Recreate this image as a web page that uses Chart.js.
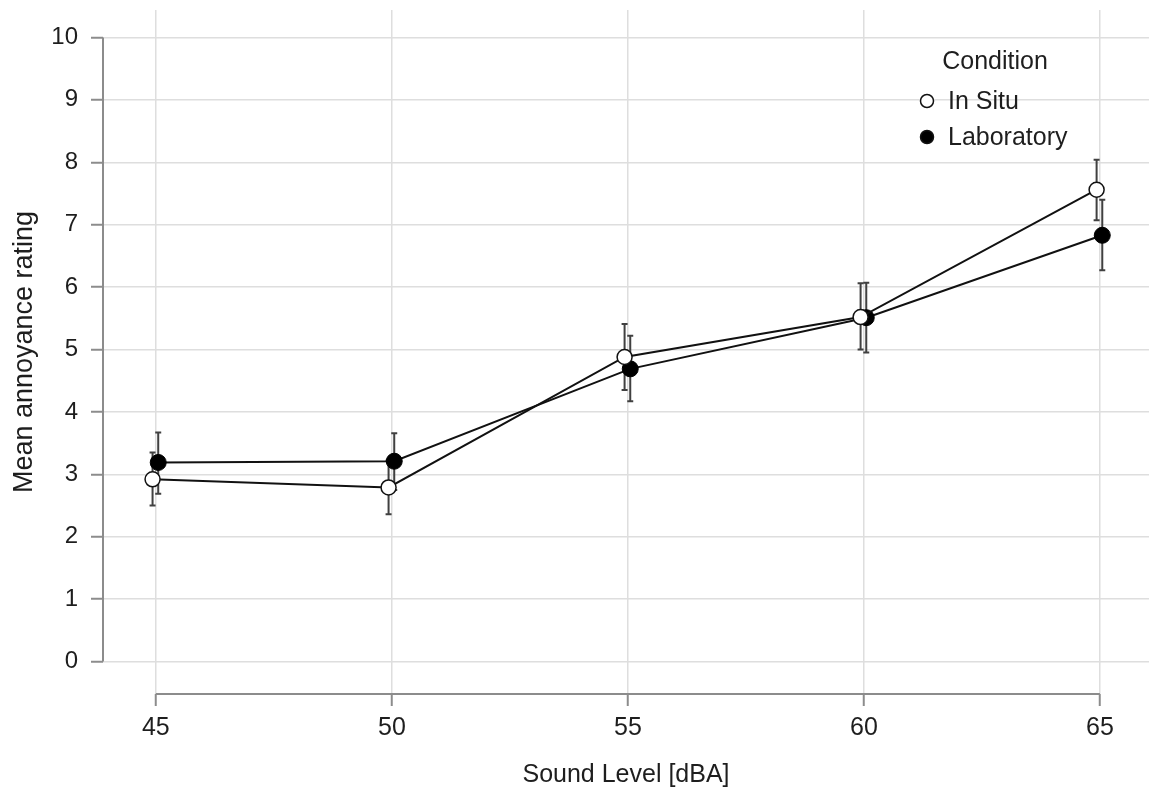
<!DOCTYPE html>
<html>
<head>
<meta charset="utf-8">
<script src="https://cdn.jsdelivr.net/npm/chart.js@4"></script>
<style>
html,body{margin:0;padding:0;background:#fff;}
canvas{display:block;}
</style>
</head>
<body>
<canvas id="c" width="1149" height="790"></canvas>
<script>
// ---- data ----
const levels = [45, 50, 55, 60, 65];
const inSitu = [2.92, 2.79, 4.88, 5.52, 7.56];
const inSituLow = [2.50, 2.36, 4.35, 5.00, 7.07];
const inSituHigh = [3.35, 3.22, 5.41, 6.06, 8.04];
const lab = [3.19, 3.21, 4.69, 5.51, 6.83];
const labLow = [2.69, 2.75, 4.17, 4.95, 6.27];
const labHigh = [3.67, 3.66, 5.22, 6.07, 7.40];
const xTicks = [45, 50, 55, 60, 65];
const yTicks = [0, 1, 2, 3, 4, 5, 6, 7, 8, 9, 10];
const seriesNames = ['In Situ', 'Laboratory'];
const legendTitle = 'Condition';
const xTitle = 'Sound Level [dBA]';
const yTitle = 'Mean annoyance rating';

// ---- styling / layout ----
const dodge = [-0.07, 0.05];
const FONT = '"Liberation Sans", Arial, Helvetica, sans-serif';
const TEXT = '#1e1e1e';
const GRID = '#dedede';
const AXIS = '#8c8c8c';

const series = [
  {mean: inSitu, low: inSituLow, high: inSituHigh, fill: '#ffffff'},
  {mean: lab, low: labLow, high: labHigh, fill: '#000000'}
];

const errorBars = {
  id: 'errorBars',
  beforeDatasetsDraw(chart) {
    const ctx = chart.ctx, xs = chart.scales.x, ys = chart.scales.y;
    ctx.save();
    ctx.strokeStyle = '#404040';
    ctx.lineWidth = 2;
    series.forEach((s, si) => {
      levels.forEach((lv, i) => {
        const px = xs.getPixelForValue(lv + dodge[si]);
        const y1 = ys.getPixelForValue(s.low[i]);
        const y2 = ys.getPixelForValue(s.high[i]);
        ctx.beginPath();
        ctx.moveTo(px, y1); ctx.lineTo(px, y2);
        ctx.moveTo(px - 3, y1); ctx.lineTo(px + 3, y1);
        ctx.moveTo(px - 3, y2); ctx.lineTo(px + 3, y2);
        ctx.stroke();
      });
    });
    ctx.restore();
  }
};

const axisLines = {
  id: 'axisLines',
  beforeDatasetsDraw(chart) {
    const ctx = chart.ctx, xs = chart.scales.x, ys = chart.scales.y, a = chart.chartArea;
    ctx.save();
    ctx.strokeStyle = AXIS;
    ctx.lineWidth = 2;
    ctx.beginPath();
    ctx.moveTo(a.left, ys.getPixelForValue(yTicks[0]));
    ctx.lineTo(a.left, ys.getPixelForValue(yTicks[yTicks.length - 1]));
    ctx.moveTo(xs.getPixelForValue(xTicks[0]), a.bottom);
    ctx.lineTo(xs.getPixelForValue(xTicks[xTicks.length - 1]), a.bottom);
    ctx.stroke();
    ctx.restore();
  }
};

const customLegend = {
  id: 'customLegend',
  afterDraw(chart) {
    const ctx = chart.ctx;
    ctx.save();
    ctx.font = '25px ' + FONT;
    ctx.fillStyle = TEXT;
    ctx.textBaseline = 'middle';
    ctx.textAlign = 'center';
    ctx.fillText(legendTitle, 995, 62);
    ctx.textAlign = 'left';
    const rows = [101, 137];
    seriesNames.forEach((n, i) => {
      ctx.beginPath();
      ctx.arc(927, rows[i], 6.5, 0, Math.PI * 2);
      ctx.fillStyle = series[i].fill;
      ctx.fill();
      ctx.lineWidth = 1.5;
      ctx.strokeStyle = '#111';
      ctx.stroke();
      ctx.fillStyle = TEXT;
      ctx.fillText(n, 948, rows[i] + 1);
    });
    ctx.restore();
  }
};

const noPad = (s) => { s.paddingTop = 0; s.paddingBottom = 0; s.paddingLeft = 0; s.paddingRight = 0; };

const mkData = (si) => levels.map((lv, i) => ({x: lv + dodge[si], y: series[si].mean[i]}));

new Chart(document.getElementById('c'), {
  type: 'line',
  data: {
    datasets: [
      {label: seriesNames[0], data: mkData(0), borderColor: '#111', borderWidth: 2,
       pointBackgroundColor: '#ffffff', pointBorderColor: '#111', pointBorderWidth: 1.5,
       pointRadius: 7.5, pointHoverRadius: 7.5, tension: 0},
      {label: seriesNames[1], data: mkData(1), borderColor: '#111', borderWidth: 2,
       pointBackgroundColor: '#000000', pointBorderColor: '#000', pointBorderWidth: 1,
       pointRadius: 8, pointHoverRadius: 8, tension: 0}
    ]
  },
  options: {
    responsive: false,
    animation: false,
    devicePixelRatio: 1,
    layout: {autoPadding: false, padding: {top: 10, right: 0, left: 0, bottom: 0}},
    plugins: {legend: {display: false}, tooltip: {enabled: false}},
    scales: {
      x: {
        type: 'linear',
        min: 43.88,
        max: 66.04,
        afterBuildTicks: (s) => { s.ticks = xTicks.map(v => ({value: v})); },
        afterFit: (s) => { s.height = 96; noPad(s); },
        border: {display: false},
        grid: {color: GRID, lineWidth: 1.5, tickColor: AXIS, tickLength: 12, tickWidth: 2},
        ticks: {font: {family: FONT, size: 25}, color: TEXT, padding: 7, maxRotation: 0, autoSkip: false},
        title: {display: true, text: xTitle, font: {family: FONT, size: 25}, color: TEXT, padding: {top: 0, bottom: 0}}
      },
      y: {
        type: 'linear',
        min: -0.52,
        max: 10.44,
        afterBuildTicks: (s) => { s.ticks = yTicks.map(v => ({value: v})); },
        afterFit: (s) => { s.width = 103; noPad(s); },
        border: {display: false},
        grid: {color: GRID, lineWidth: 1.5, tickColor: AXIS, tickLength: 12, tickWidth: 2},
        ticks: {font: {family: FONT, size: 24}, color: TEXT, padding: 13, autoSkip: false},
        title: {display: true, text: yTitle, font: {family: FONT, size: 27}, color: TEXT, padding: {top: 8, bottom: 0}}
      }
    }
  },
  plugins: [axisLines, errorBars, customLegend]
});
</script>
</body>
</html>
